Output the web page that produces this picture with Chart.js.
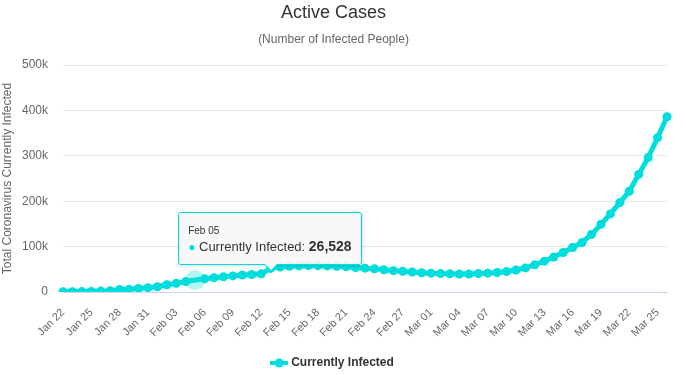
<!DOCTYPE html>
<html>
<head>
<meta charset="utf-8">
<script src="https://cdn.jsdelivr.net/npm/chart.js@4.4.1/dist/chart.umd.min.js"></script>
<style>
    html, body { margin: 0; padding: 0; background: #fff; }
    #wrap { position: relative; width: 686px; height: 375px; }
    #tip {
        position: absolute; display: none; box-sizing: border-box;
        background: rgba(247, 247, 247, 0.9); border: 1px solid #00dddd; border-radius: 3px;
        box-shadow: 1px 1px 3px rgba(0, 0, 0, 0.15);
        padding: 11px 9px 8px 9px; color: #333; font-family: 'Liberation Sans', Arial, sans-serif;
        white-space: nowrap; pointer-events: none;
    }
    #tip .t { font-size: 10px; line-height: 14px; }
    #tip .b { font-size: 13px; line-height: 17px; }
    #tip .b b { font-size: 14px; }
    #tip .dot { color: #00dddd; font-size: 12px; }
    #tip::before, #tip::after {
        content: ""; position: absolute; left: 85px; width: 0; height: 0;
        border-left: 7px solid transparent; border-right: 7px solid transparent;
    }
    #tip::before { bottom: -8px; border-top: 8px solid #00dddd; }
    #tip::after { bottom: -6px; border-top: 7px solid rgb(247, 247, 247); }
</style>
</head>
<body>
<div id="wrap">
    <canvas id="active_cases_canvas" width="686" height="375"></canvas>
    <div id="tip"></div>
</div>
<script>
const day_labels = [
    "Jan 22","Jan 23","Jan 24","Jan 25","Jan 26","Jan 27","Jan 28","Jan 29","Jan 30","Jan 31",
    "Feb 01","Feb 02","Feb 03","Feb 04","Feb 05","Feb 06","Feb 07","Feb 08","Feb 09","Feb 10",
    "Feb 11","Feb 12","Feb 13","Feb 14","Feb 15","Feb 16","Feb 17","Feb 18","Feb 19","Feb 20",
    "Feb 21","Feb 22","Feb 23","Feb 24","Feb 25","Feb 26","Feb 27","Feb 28","Feb 29",
    "Mar 01","Mar 02","Mar 03","Mar 04","Mar 05","Mar 06","Mar 07","Mar 08","Mar 09","Mar 10",
    "Mar 11","Mar 12","Mar 13","Mar 14","Mar 15","Mar 16","Mar 17","Mar 18","Mar 19","Mar 20",
    "Mar 21","Mar 22","Mar 23","Mar 24","Mar 25","Mar 26"
];

// currently infected (Feb 05 is the tooltip value)
const currently_infected = [
    510, 610, 880, 1300, 2000, 2800, 5400, 5900, 7900, 9600,
    11600, 16000, 19000, 23000, 26528, 29000, 31500, 33500, 35500, 37500,
    38500, 40000, 52000, 55000, 56500, 57500, 58000, 58000, 57500, 56500,
    55500, 54000, 52500, 51000, 49000, 47000, 45500, 44000, 42500,
    41500, 40500, 40000, 39500, 39500, 40500, 41500, 43000, 45000, 48500,
    53000, 60000, 68000, 77000, 87000, 98000, 109000, 127000, 149000, 172000,
    197000, 222000, 259000, 296000, 340000, 386000
];

const label_every = 3;
const y_max = 500000;
const y_step = 100000;
const highlighted_day = "Feb 05";

const series_color = '#00dddd';

function legend_symbol(color) {
    const c = document.createElement('canvas');
    c.width = 18;
    c.height = 10;
    const ctx = c.getContext('2d');
    ctx.strokeStyle = color;
    ctx.lineWidth = 4;
    ctx.beginPath();
    ctx.moveTo(0, 5);
    ctx.lineTo(18, 5);
    ctx.stroke();
    ctx.fillStyle = color;
    ctx.beginPath();
    ctx.arc(9, 5, 4.5, 0, Math.PI * 2);
    ctx.fill();
    return c;
}

function draw_tooltip(context) {
    const model = context.tooltip;
    const tip = document.getElementById('tip');
    if (model.opacity === 0 || !model.dataPoints || !model.dataPoints.length) {
        tip.style.display = 'none';
        return;
    }
    const point = model.dataPoints[0];
    tip.innerHTML = '<div class="t">' + point.label + '</div>' +
        '<div class="b"><span class="dot">&#9679;</span> ' + point.dataset.label + ': <b>' +
        point.raw.toLocaleString('en-US') + '</b></div>';
    tip.style.display = 'block';
    tip.style.left = (model.caretX - 17) + 'px';
    tip.style.top = (model.caretY - 68) + 'px';
}

const narrow_font = "'Liberation Sans Narrow', 'Arial Narrow', 'Liberation Sans', sans-serif";
const plain_font = "'Liberation Sans', Arial, sans-serif";

let config = {
    type: 'line',
    data: {
        labels: day_labels,
        datasets: [{
            label: "Currently Infected",
            data: currently_infected,
            borderColor: series_color,
            backgroundColor: series_color,
            borderWidth: 5,
            pointRadius: 4.5,
            pointBorderWidth: 0,
            pointHoverRadius: 10,
            pointHoverBorderWidth: 0,
            pointHoverBackgroundColor: 'rgba(0, 221, 221, 0.3)',
            tension: 0
        }]
    },
    options: {
        responsive: false,
        animation: false,
        events: [],
        layout: {
            padding: {left: 0, right: 19, top: 0, bottom: -4}
        },
        plugins: {
            title: {
                display: true,
                text: "Active Cases",
                color: '#333',
                font: {family: narrow_font, size: 18, weight: 'normal'},
                padding: {top: 2, bottom: 7}
            },
            subtitle: {
                display: true,
                text: "(Number of Infected People)",
                color: '#666',
                font: {family: narrow_font, size: 12},
                padding: {top: 2, bottom: 18}
            },
            legend: {
                position: 'bottom',
                labels: {
                    usePointStyle: true,
                    pointStyle: legend_symbol(series_color),
                    color: '#333',
                    font: {family: plain_font, size: 12, weight: 'bold'},
                    padding: 4
                }
            },
            tooltip: {
                enabled: false,
                external: draw_tooltip
            }
        },
        scales: {
            x: {
                offset: false,
                grid: {display: false},
                border: {color: '#ccd6eb'},
                ticks: {
                    autoSkip: false,
                    minRotation: 45,
                    maxRotation: 45,
                    color: '#666',
                    font: {family: plain_font, size: 11},
                    padding: 6,
                    callback: function (value, index) {
                        return index % label_every === 0 ? day_labels[index] : null;
                    }
                },
                afterFit: function (scale) {
                    scale.height = 61;
                }
            },
            y: {
                min: 0,
                max: y_max,
                border: {display: false},
                grid: {color: '#e6e6e6', drawTicks: false},
                ticks: {
                    stepSize: y_step,
                    color: '#666',
                    font: {family: plain_font, size: 12},
                    padding: 15,
                    callback: function (value) {
                        return value === 0 ? '0' : (value / 1000) + 'k';
                    }
                },
                title: {
                    display: true,
                    text: "Total Coronavirus Currently Infected",
                    color: '#666',
                    font: {family: plain_font, size: 12},
                    padding: 0
                },
                afterFit: function (scale) {
                    scale.width = 63;
                }
            }
        }
    }
};

const active_cases_plot = new Chart(document.getElementById('active_cases_canvas'), config);

const active = [{datasetIndex: 0, index: day_labels.indexOf(highlighted_day)}];
active_cases_plot.setActiveElements(active);
active_cases_plot.tooltip.setActiveElements(active, {x: 0, y: 0});
active_cases_plot.update();
</script>
</body>
</html>
